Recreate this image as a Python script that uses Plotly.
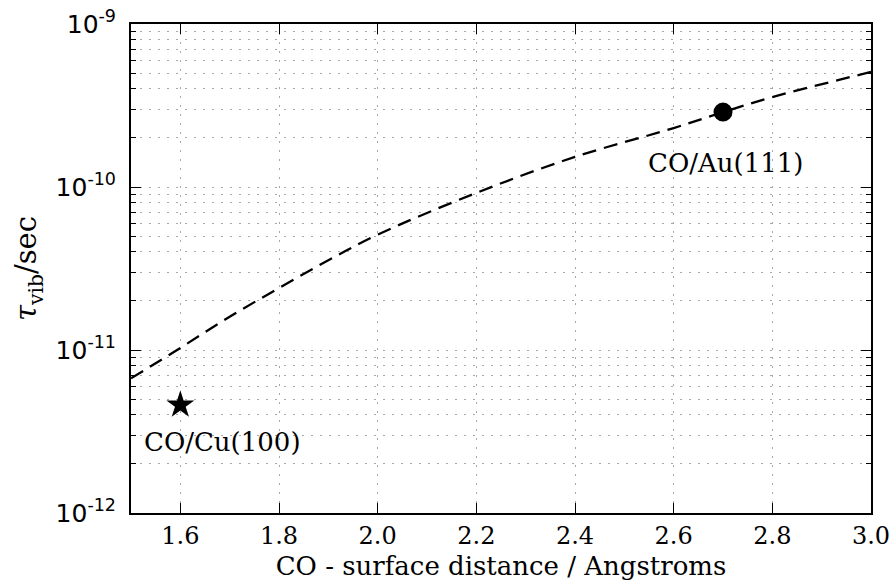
import plotly.graph_objects as go

# data
curve_x = [1.5, 1.6, 1.7, 1.8, 1.9, 2.0, 2.2, 2.4, 2.6, 2.7, 2.8, 3.0]
curve_y = [6.7e-12, 1.03e-11, 1.6e-11, 2.4e-11, 3.55e-11, 5.1e-11, 9.2e-11,
           1.53e-10, 2.3e-10, 2.88e-10, 3.56e-10, 5.08e-10]
cu_x = [1.6]
cu_y = [4.6e-12]
au_x = [2.7]
au_y = [2.88e-10]
labels = ["CO/Cu(100)", "CO/Au(111)"]
x_ticks = [1.6, 1.8, 2.0, 2.2, 2.4, 2.6, 2.8, 3.0]
y_ticks = [1e-12, 1e-11, 1e-10, 1e-9]
y_tick_text = ["10<sup>-12</sup>", "10<sup>-11</sup>", "10<sup>-10</sup>", "10<sup>-9</sup>"]

SERIF = "DejaVu Serif"
SANS = "DejaVu Sans"

fig = go.Figure()
fig.add_trace(go.Scatter(x=curve_x, y=curve_y, mode="lines", line_shape="spline",
                         line=dict(color="black", width=2.3, dash="14px,8px"),
                         showlegend=False))
fig.add_trace(go.Scatter(x=cu_x, y=cu_y, mode="markers",
                         marker=dict(symbol="star", size=21, color="black"),
                         showlegend=False))
fig.add_trace(go.Scatter(x=au_x, y=au_y, mode="markers",
                         marker=dict(symbol="circle", size=19, color="black"),
                         showlegend=False))

fig.add_annotation(x=1.686, y=-11.564, xref="x", yref="y", text=labels[0],
                   showarrow=False, font=dict(family=SERIF, size=26, color="black"))
fig.add_annotation(x=2.706, y=-9.853, xref="x", yref="y", text=labels[1],
                   showarrow=False, font=dict(family=SERIF, size=26, color="black"))

grid_col = "#a8a8a8"
gdash = "2px,7px"
fig.update_xaxes(range=[1.5, 3.0], tickvals=x_ticks,
                 ticktext=[f"{v:.1f}" for v in x_ticks],
                 ticks="inside", ticklen=10, tickwidth=1, tickcolor="black",
                 showline=True, linecolor="black", linewidth=2, mirror="ticks",
                 showgrid=True, gridcolor=grid_col, griddash=gdash, gridwidth=1,
                 zeroline=False, automargin=False,
                 tickfont=dict(family=SERIF, size=24, color="black"),
                 ticklabelstandoff=0,
                 title=dict(text="CO - surface distance / Angstroms",
                            font=dict(family=SERIF, size=26, color="black"), standoff=8))
fig.update_yaxes(type="log", range=[-12, -9], tickvals=y_ticks, ticktext=y_tick_text,
                 ticks="inside", ticklen=10, tickwidth=1, tickcolor="black",
                 showline=True, linecolor="black", linewidth=2, mirror="ticks",
                 showgrid=True, gridcolor=grid_col, griddash=gdash, gridwidth=1,
                 zeroline=False, automargin=False,
                 minor=dict(ticks="inside", ticklen=5, tickcolor="black", dtick="D1",
                            showgrid=True, gridcolor=grid_col, griddash=gdash, gridwidth=1),
                 tickfont=dict(family=SANS, size=25, color="black"),
                 ticklabelstandoff=8,
                 title=dict(text="<i>τ</i><sub>vib</sub>/sec",
                            font=dict(family=SERIF, size=29, color="black"), standoff=10))

fig.update_layout(width=893, height=586, margin=dict(l=131, r=22, t=24, b=73),
                  plot_bgcolor="white", paper_bgcolor="white")
fig.write_html("out.html")
